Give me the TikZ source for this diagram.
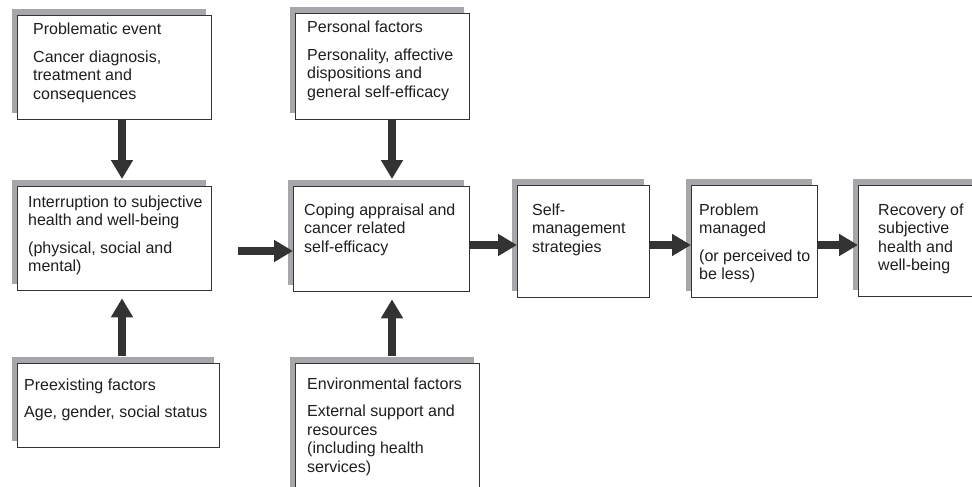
\documentclass[tikz,border=0pt]{standalone}
\usepackage{fontspec}
\setmainfont{Liberation Sans}
\usetikzlibrary{arrows.meta,shadows}
\definecolor{boxline}{HTML}{333333}
\definecolor{shade}{HTML}{A7A7AB}
\definecolor{txtc}{HTML}{1E1E1E}
\definecolor{arrc}{HTML}{333333}
\tikzset{
  box/.style={draw=boxline, line width=1.3pt, fill=white, anchor=north west, inner sep=0pt,
    drop shadow={shadow xshift=-6pt, shadow yshift=7pt, fill=shade, opacity=1}},
  boxtext/.style={anchor=base west, inner sep=0pt, text=txtc, font=\fontsize{16}{18.5}\selectfont},
  flow/.style={draw=arrc, line width=8pt, -{Triangle[width=21pt,length=19pt]}},
}
\begin{document}
\begin{tikzpicture}[x=1pt,y=-1pt]
\clip (0,0) rectangle (972,487);
\fill[white] (0,0) rectangle (972,487);
% boxes
\node[box, minimum width=194pt, minimum height=104pt] (b1) at (17,15) {};
\node[box, minimum width=194pt, minimum height=104pt] (b2) at (17,186) {};
\node[box, minimum width=202pt, minimum height=84pt] (b3) at (17,363) {};
\node[box, minimum width=176pt, minimum height=105pt] (b4) at (293,186) {};
\node[box, minimum width=174pt, minimum height=106pt] (b5) at (295,13) {};
\node[box, minimum width=184pt, minimum height=130pt] (b6) at (295,363) {};
\node[box, minimum width=132pt, minimum height=112pt] (b7) at (517,185) {};
\node[box, minimum width=126pt, minimum height=112pt] (b8) at (691,185) {};
\node[box, minimum width=125pt, minimum height=111pt] (b9) at (858,185) {};
% texts
\node[boxtext] (t1) at ([shift={(16,20)}]b1.north west) {\begin{tabular}[t]{@{}l@{}}Problematic event\\[9pt]Cancer diagnosis,\\treatment and\\consequences\end{tabular}};
\node[boxtext] (t2) at ([shift={(11,21)}]b2.north west) {\begin{tabular}[t]{@{}l@{}}Interruption to subjective\\health and well-being\\[9pt](physical, social and\\mental)\end{tabular}};
\node[boxtext] (t3) at ([shift={(7,27)}]b3.north west) {\begin{tabular}[t]{@{}l@{}}Preexisting factors\\[9pt]Age, gender, social status\end{tabular}};
\node[boxtext] (t4) at ([shift={(11,29)}]b4.north west) {\begin{tabular}[t]{@{}l@{}}Coping appraisal and\\cancer related\\self-efficacy\end{tabular}};
\node[boxtext] (t5) at ([shift={(12,20)}]b5.north west) {\begin{tabular}[t]{@{}l@{}}Personal factors\\[9pt]Personality, affective\\dispositions and\\general self-efficacy\end{tabular}};
\node[boxtext] (t6) at ([shift={(12,26)}]b6.north west) {\begin{tabular}[t]{@{}l@{}}Environmental factors\\[9pt]External support and\\resources\\(including health\\services)\end{tabular}};
\node[boxtext] (t7) at ([shift={(15,30)}]b7.north west) {\begin{tabular}[t]{@{}l@{}}Self-\\management\\strategies\end{tabular}};
\node[boxtext] (t8) at ([shift={(8,30)}]b8.north west) {\begin{tabular}[t]{@{}l@{}}Problem\\managed\\[9pt](or perceived to\\be less)\end{tabular}};
\node[boxtext] (t9) at ([shift={(20,30)}]b9.north west) {\begin{tabular}[t]{@{}l@{}}Recovery of\\subjective\\health and\\well-being\end{tabular}};
% guide coordinates
\coordinate (cx1) at (122,0);
\coordinate (cx2) at (392,0);
\coordinate (cy) at (0,245);
\coordinate (a0) at (238,251);
% arrows
\draw[flow] (b1.south -| cx1) -- ([yshift=7pt]b2.north -| cx1);
\draw[flow] ([yshift=7pt]b3.north -| cx1) -- ([yshift=-7pt]b2.south -| cx1);
\draw[flow] (b5.south -| cx2) -- ([yshift=7pt]b4.north -| cx2);
\draw[flow] ([yshift=7pt]b6.north -| cx2) -- ([yshift=-7pt]b4.south -| cx2);
\draw[flow] (a0) -- (b4.west |- a0);
\draw[flow] (b4.east |- cy) -- (b7.west |- cy);
\draw[flow] (b7.east |- cy) -- (b8.west |- cy);
\draw[flow] (b8.east |- cy) -- (b9.west |- cy);
\end{tikzpicture}
\end{document}
